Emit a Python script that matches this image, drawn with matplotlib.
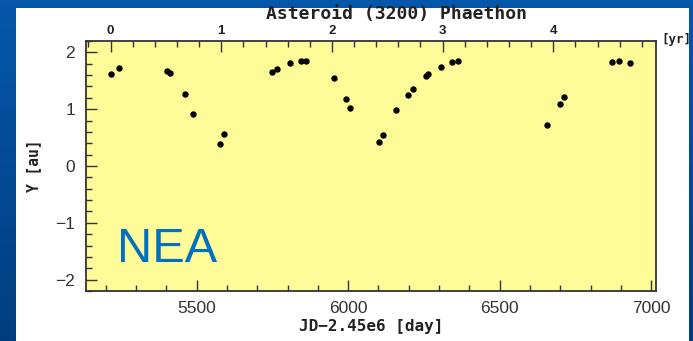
import numpy as np
import matplotlib
matplotlib.use("Agg")
import matplotlib.pyplot as plt
from matplotlib.ticker import MultipleLocator
from matplotlib.patches import Rectangle

# ---- data ----
jd = [5216, 5244, 5403, 5413, 5461, 5488, 5576, 5590,
      5749, 5765, 5807, 5845, 5860, 5952, 5994, 6005, 6102, 6115,
      6159, 6196, 6213, 6258, 6263, 6306, 6344, 6362,
      6655, 6698, 6713, 6870, 6895, 6929]
y_au = [1.62, 1.72, 1.68, 1.64, 1.26, 0.92, 0.39, 0.56,
        1.66, 1.71, 1.82, 1.85, 1.84, 1.55, 1.18, 1.02, 0.43, 0.55,
        0.98, 1.25, 1.35, 1.59, 1.62, 1.75, 1.83, 1.84,
        0.72, 1.09, 1.21, 1.83, 1.84, 1.82]
jd0 = 5216          # epoch of year 0 on the top axis
year_len = 365.25
title = "Asteroid (3200) Phaethon"
xlabel = "JD\u22122.45e6 [day]"
ylabel = "Y [au]"
label_text = "NEA"

W, H = 693, 341
fig = plt.figure(figsize=(W / 100, H / 100), dpi=100, facecolor="#0456A8")

# slide background: vertical blue gradient made of thin strips
top_c = np.array([0.02, 0.34, 0.67])
bot_c = np.array([0.00, 0.24, 0.50])
n = 60
for i in range(n):
    t = i / (n - 1)
    c = top_c * (1 - t) + bot_c * t
    fig.add_artist(Rectangle((0, 1 - (i + 1) / n), 1, 1 / n + 0.002,
                             transform=fig.transFigure, facecolor=c,
                             edgecolor="none", zorder=-20))
# white panel
fig.add_artist(Rectangle((16 / W, 0), (689 - 16) / W, (H - 8) / H,
                         transform=fig.transFigure, facecolor="white",
                         edgecolor="none", zorder=-10))

ax = fig.add_axes([86 / W, 1 - 291 / H, (656 - 86) / W, (291 - 41) / H])
ax.set_facecolor("#fffb98")
ax.plot(jd, y_au, "o", color="black", markersize=4.6, markeredgewidth=0)
ax.set_xlim(5135, 7016)
ax.set_ylim(-2.2, 2.2)

ax.xaxis.set_major_locator(MultipleLocator(500))
ax.xaxis.set_minor_locator(MultipleLocator(100))
ax.yaxis.set_major_locator(MultipleLocator(1))
ax.yaxis.set_minor_locator(MultipleLocator(0.2))
ax.tick_params(which="both", direction="in", top=False, right=False,
               color="#333333", width=1.0)
ax.tick_params(which="major", length=8)
ax.tick_params(which="minor", length=4.5)
ax.tick_params(axis="x", labelsize=12.5, labelcolor="#333333", pad=7)
ax.tick_params(axis="y", labelsize=12.5, labelcolor="#333333", pad=8)
for lab in ax.get_xticklabels() + ax.get_yticklabels():
    lab.set_fontfamily("Liberation Sans")
for s in ax.spines.values():
    s.set_color("#333333")
    s.set_linewidth(1.3)

mono = "DejaVu Sans Mono"
ax.set_xlabel(xlabel, fontsize=11.5, fontweight="bold", family=mono, labelpad=2,
              color="#222222")
ax.set_ylabel(ylabel, fontsize=10.5, fontweight="bold", family=mono, labelpad=10,
              color="#222222")

# top axis in years
sec = ax.secondary_xaxis("top", functions=(lambda x: (x - jd0) / year_len,
                                           lambda t: t * year_len + jd0))
sec.xaxis.set_major_locator(MultipleLocator(1))
sec.xaxis.set_minor_locator(MultipleLocator(0.2))
sec.tick_params(which="both", direction="in", color="#333333", width=1.0)
sec.tick_params(which="major", length=8, labelsize=9.5, pad=3, labelcolor="#222222")
sec.tick_params(which="minor", length=4.5)
for lab in sec.get_xticklabels():
    lab.set_fontweight("bold")
    lab.set_fontfamily("Liberation Sans")
sec.spines["top"].set_visible(False)

fig.text(396 / W, 1 - 14 / H, title, ha="center", va="center", fontsize=13,
         fontweight="bold", family=mono, color="#222222")
fig.text(676 / W, 1 - 40 / H, "[yr]", ha="center", va="center", fontsize=9,
         fontweight="bold", family=mono, color="#222222")
fig.text(117 / W, 1 - 262 / H, label_text, ha="left", va="baseline",
         fontsize=35, color="#0070C0", family="Liberation Sans")

fig.savefig("out.png", dpi=100, facecolor=fig.get_facecolor())
